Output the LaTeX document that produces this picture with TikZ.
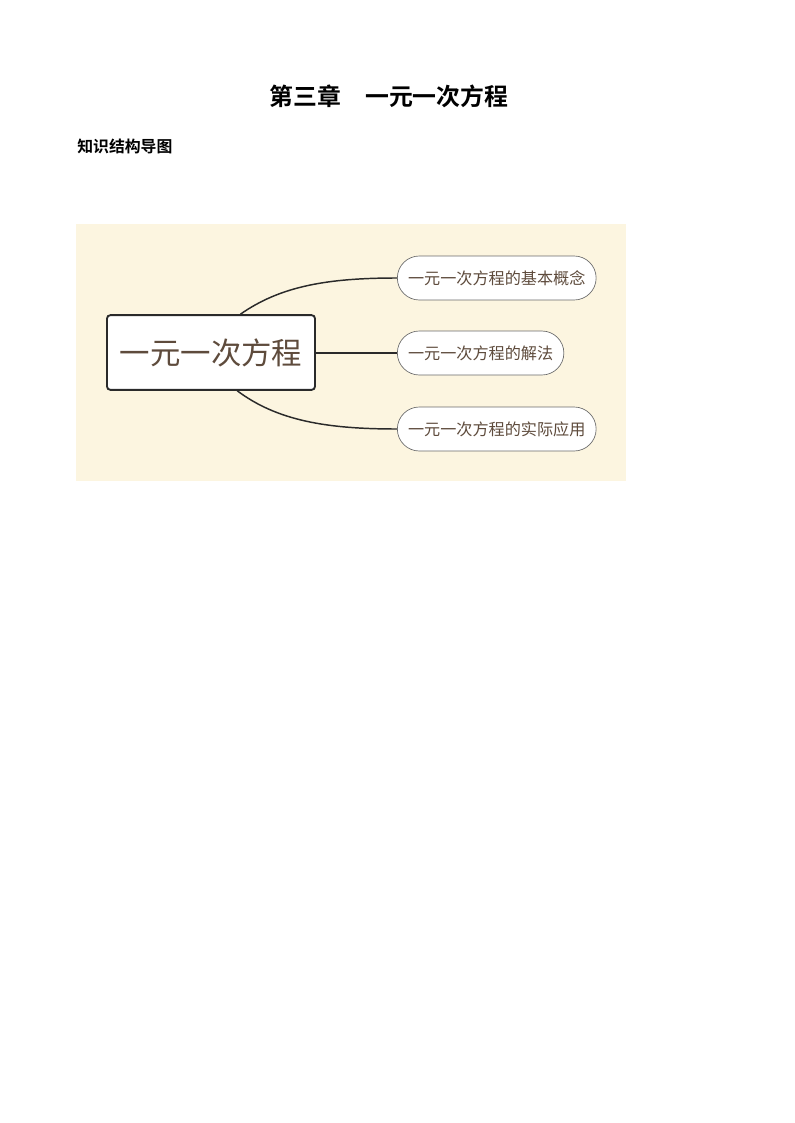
\documentclass[tikz,border=0pt]{standalone}
\usepackage{fontspec}
\setmainfont{Noto Sans CJK SC}
\newfontfamily\cjkbold{Noto Sans CJK SC Bold}
\usetikzlibrary{calc}
\definecolor{bgcream}{HTML}{FCF5E0}
\definecolor{txtbrown}{HTML}{5E4B3C}
\definecolor{linedark}{HTML}{2A2A2A}
\definecolor{pillgray}{HTML}{6A6A6A}
\tikzset{
  mainbox/.style={draw=linedark, line width=1.4pt, fill=white, rounded corners=2.5pt,
    minimum width=156pt, minimum height=56pt, inner sep=0pt,
    font=\fontsize{22.8}{27}\selectfont, text=txtbrown},
  pill/.style={draw=pillgray, line width=0.5pt, fill=white, rounded corners=16.5pt,
    minimum height=33pt, inner xsep=8pt, inner ysep=0pt, anchor=west,
    font=\fontsize{12.1}{15}\selectfont, text=txtbrown},
  link/.style={draw=linedark, line width=1.1pt},
}
\begin{document}
\begin{tikzpicture}[x=0.75pt,y=-0.75pt]
\useasboundingbox (0,0) rectangle (794,1123);
\fill[white] (0,0) rectangle (794,1123);
\node[font=\cjkbold\fontsize{17.9}{22}\selectfont] (title) at (389,96) {第三章　一元一次方程};
\node[font=\cjkbold\fontsize{11.9}{14}\selectfont, anchor=west, inner sep=0pt] (sub) at (77,146) {知识结构导图};
\fill[bgcream] (76,224) rectangle (626,481);
\node[mainbox] (main) at (211,352.5) {一元一次方程};
\node[pill] (c1) at (397,278) {一元一次方程的基本概念};
\node[pill] (c2) at (397,353) {一元一次方程的解法};
\node[pill] (c3) at (397,429) {一元一次方程的实际应用};
\draw[link] ($(main.north west)!0.64!(main.north east)$) .. controls +(40,-28) and +(-70,0) .. (c1.west);
\draw[link] (main.east |- c2.west) -- (c2.west);
\draw[link] ($(main.south west)!0.625!(main.south east)$) .. controls +(40,30) and +(-70,0) .. (c3.west);
\end{tikzpicture}
\end{document}
